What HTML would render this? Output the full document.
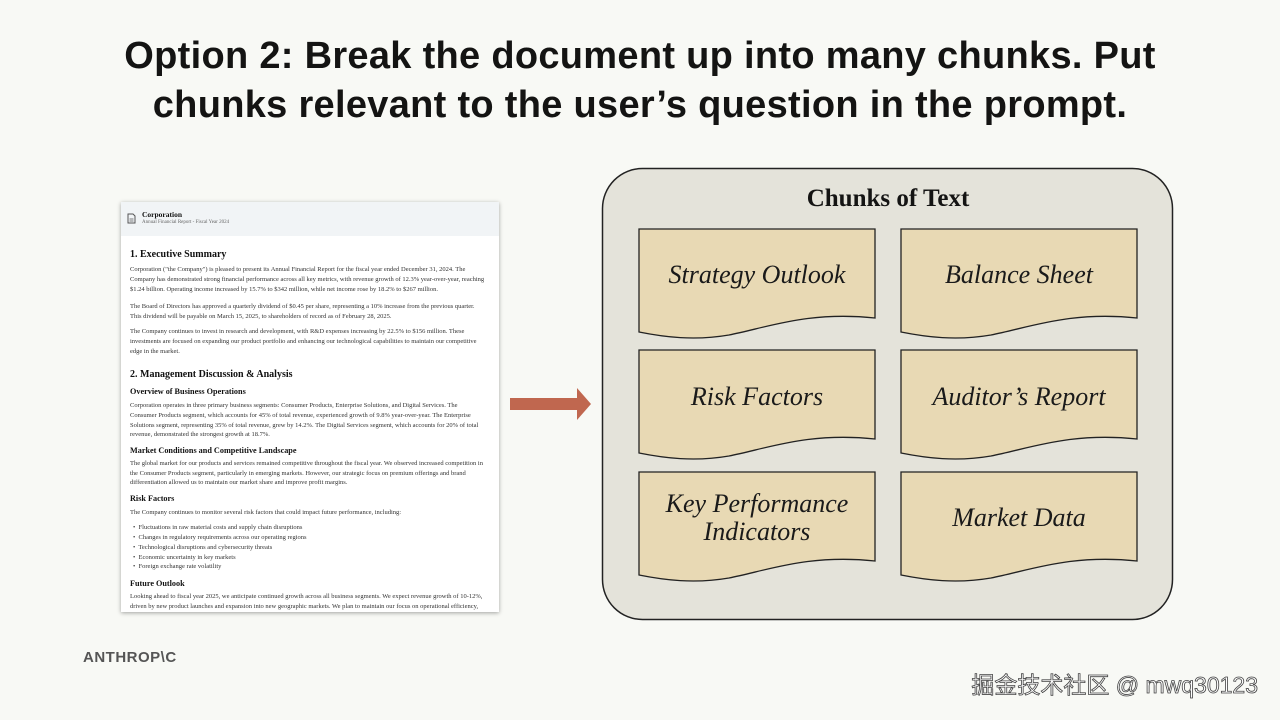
<!DOCTYPE html>
<html><head><meta charset="utf-8"><style>
body{margin:0;width:1280px;height:720px;background:#f8f9f5;position:relative;overflow:hidden;font-family:"Liberation Sans",sans-serif}
.t{position:absolute;left:0;width:1280px;text-align:center;font-weight:bold;font-size:38px;color:#141413;letter-spacing:0.3px}
.doc{position:absolute;left:121px;top:202px;width:378px;height:410px;background:#fff;box-shadow:0 1px 4px rgba(0,0,0,.35);overflow:hidden;font-family:"Liberation Serif",serif;color:#333}
.hdr{position:absolute;left:0;top:0;width:378px;height:34px;background:#f1f4f6}
.l{position:absolute;left:9px;white-space:nowrap;font-size:6.5px;line-height:8px}
.h1{position:absolute;left:9px;font-weight:bold;font-size:10px;color:#111;white-space:nowrap}
.h2{position:absolute;left:9px;font-weight:bold;font-size:8.2px;color:#111;white-space:nowrap}
.ct{font-family:"Liberation Serif",serif;font-style:italic;font-size:26px;fill:#1a1a1a}
</style></head><body>
<div class="t" style="top:35px">Option 2: Break the document up into many chunks. Put</div>
<div class="t" style="top:84px">chunks relevant to the user’s question in the prompt.</div>

<div class="doc">
<div class="hdr"></div>
<svg style="position:absolute;left:6px;top:11px" width="9" height="11" viewBox="0 0 9 11"><path d="M1 1H6L8 3V10H1Z" fill="none" stroke="#555" stroke-width="1"/><path d="M2.5 6H6.5M2.5 8H6.5" stroke="#555" stroke-width=".8"/></svg>
<div class="h2" style="left:21px;top:8px;font-size:7.5px">Corporation</div>
<div class="l" style="left:21px;top:17px;font-size:5px;color:#666">Annual Financial Report - Fiscal Year 2024</div>
<div class="h1" style="top:47px">1. Executive Summary</div>
<div class="l" style="top:64px">Corporation ("the Company") is pleased to present its Annual Financial Report for the fiscal year ended December 31, 2024. The</div>
<div class="l" style="top:74px">Company has demonstrated strong financial performance across all key metrics, with revenue growth of 12.3% year-over-year, reaching</div>
<div class="l" style="top:84px">$1.24 billion. Operating income increased by 15.7% to $342 million, while net income rose by 18.2% to $267 million.</div>
<div class="l" style="top:101px">The Board of Directors has approved a quarterly dividend of $0.45 per share, representing a 10% increase from the previous quarter.</div>
<div class="l" style="top:111px">This dividend will be payable on March 15, 2025, to shareholders of record as of February 28, 2025.</div>
<div class="l" style="top:126px">The Company continues to invest in research and development, with R&amp;D expenses increasing by 22.5% to $156 million. These</div>
<div class="l" style="top:136px">investments are focused on expanding our product portfolio and enhancing our technological capabilities to maintain our competitive</div>
<div class="l" style="top:146px">edge in the market.</div>
<div class="h1" style="top:167px">2. Management Discussion &amp; Analysis</div>
<div class="h2" style="top:185px">Overview of Business Operations</div>
<div class="l" style="top:200px">Corporation operates in three primary business segments: Consumer Products, Enterprise Solutions, and Digital Services. The</div>
<div class="l" style="top:210px">Consumer Products segment, which accounts for 45% of total revenue, experienced growth of 9.8% year-over-year. The Enterprise</div>
<div class="l" style="top:220px">Solutions segment, representing 35% of total revenue, grew by 14.2%. The Digital Services segment, which accounts for 20% of total</div>
<div class="l" style="top:229px">revenue, demonstrated the strongest growth at 18.7%.</div>
<div class="h2" style="top:244px">Market Conditions and Competitive Landscape</div>
<div class="l" style="top:258px">The global market for our products and services remained competitive throughout the fiscal year. We observed increased competition in</div>
<div class="l" style="top:268px">the Consumer Products segment, particularly in emerging markets. However, our strategic focus on premium offerings and brand</div>
<div class="l" style="top:277px">differentiation allowed us to maintain our market share and improve profit margins.</div>
<div class="h2" style="top:292px">Risk Factors</div>
<div class="l" style="top:307px">The Company continues to monitor several risk factors that could impact future performance, including:</div>
<div class="l" style="top:322px;left:12px">•&nbsp; Fluctuations in raw material costs and supply chain disruptions</div>
<div class="l" style="top:332px;left:12px">•&nbsp; Changes in regulatory requirements across our operating regions</div>
<div class="l" style="top:342px;left:12px">•&nbsp; Technological disruptions and cybersecurity threats</div>
<div class="l" style="top:352px;left:12px">•&nbsp; Economic uncertainty in key markets</div>
<div class="l" style="top:361px;left:12px">•&nbsp; Foreign exchange rate volatility</div>
<div class="h2" style="top:377px">Future Outlook</div>
<div class="l" style="top:391px">Looking ahead to fiscal year 2025, we anticipate continued growth across all business segments. We expect revenue growth of 10-12%,</div>
<div class="l" style="top:401px">driven by new product launches and expansion into new geographic markets. We plan to maintain our focus on operational efficiency,</div>
</div>

<svg style="position:absolute;left:0;top:0" width="1280" height="720">
<path d="M510 398H577V388L591 404L577 420V410H510Z" fill="#c0674f"/>
<rect x="602.5" y="168.5" width="570" height="451" rx="40" fill="#e4e3da" stroke="#222" stroke-width="1.5"/>
<text x="888" y="206" text-anchor="middle" font-family="Liberation Serif" font-weight="bold" font-size="25" fill="#141413">Chunks of Text</text>
<defs><path id="c" d="M0 0H236V89C170 82 130 98 90 106C55 112 25 108 0 103Z" fill="#e8d9b4" stroke="#222" stroke-width="1.3"/></defs>
<use href="#c" x="639" y="229"/><use href="#c" x="901" y="229"/>
<use href="#c" x="639" y="350"/><use href="#c" x="901" y="350"/>
<use href="#c" x="639" y="472"/><use href="#c" x="901" y="472"/>
<text class="ct" x="757" y="283" text-anchor="middle">Strategy Outlook</text>
<text class="ct" x="1019" y="283" text-anchor="middle">Balance Sheet</text>
<text class="ct" x="757" y="405" text-anchor="middle">Risk Factors</text>
<text class="ct" x="1019" y="405" text-anchor="middle">Auditor’s Report</text>
<text class="ct" x="757" y="512" text-anchor="middle">Key Performance</text>
<text class="ct" x="757" y="540" text-anchor="middle">Indicators</text>
<text class="ct" x="1019" y="526" text-anchor="middle">Market Data</text>
<text x="83" y="662" font-family="Liberation Sans" font-weight="bold" font-size="15" fill="#555" letter-spacing="0.5">ANTHROP\C</text>
<text x="1258" y="693" text-anchor="end" font-family="Liberation Sans, Noto Sans CJK SC, sans-serif" font-size="23" fill="#fff" stroke="#444" stroke-width="0.8">掘金技术社区 @ mwq30123</text>
</svg>
</body></html>
